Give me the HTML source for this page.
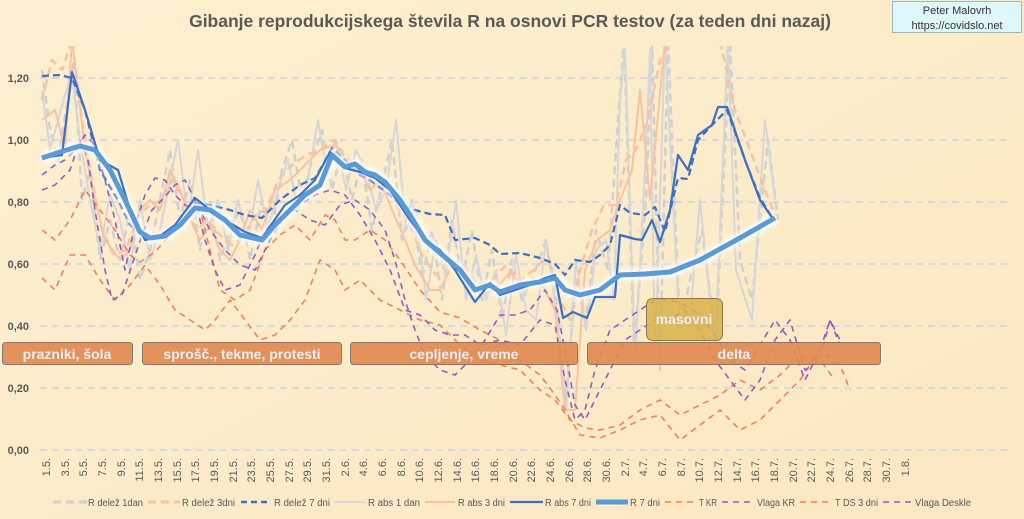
<!DOCTYPE html>
<html><head><meta charset="utf-8"><style>
html,body{margin:0;padding:0;}
body{width:1024px;height:519px;overflow:hidden;background:#fcecc9;}
svg{display:block;font-family:"Liberation Sans",sans-serif;}
</style></head><body>
<svg width="1024" height="519" viewBox="0 0 1024 519" xmlns="http://www.w3.org/2000/svg">
<defs>
<linearGradient id="bg" x1="0" y1="0" x2="1" y2="1"><stop offset="0" stop-color="#fdefd0"/><stop offset="1" stop-color="#fbe8c2"/></linearGradient>
<filter id="blur" x="-5%" y="-5%" width="110%" height="110%"><feGaussianBlur stdDeviation="2.5"/></filter>
</defs>
<rect width="1024" height="519" fill="url(#bg)"/>
<text x="510" y="27" text-anchor="middle" font-size="17.5" font-weight="bold" fill="#595959">Gibanje reprodukcijskega števila R na osnovi PCR testov (za teden dni nazaj)</text>
<rect x="892.5" y="1.5" width="129" height="31" fill="#ddf7fb" stroke="#9fb6c0"/>
<text x="957" y="14" text-anchor="middle" font-size="11" fill="#333">Peter Malovrh</text>
<text x="957" y="29" text-anchor="middle" font-size="11" fill="#333">https://covidslo.net</text>
<g stroke="#d9d9d9" stroke-width="2" stroke-dasharray="7,5">
<line x1="40" y1="78" x2="1012" y2="78"/><line x1="40" y1="140" x2="1012" y2="140"/><line x1="40" y1="202" x2="1012" y2="202"/><line x1="40" y1="264" x2="1012" y2="264"/><line x1="40" y1="326" x2="1012" y2="326"/><line x1="40" y1="388" x2="1012" y2="388"/><line x1="40" y1="450" x2="1012" y2="450"/>
</g>
<g font-size="11" font-weight="bold" fill="#595959" text-anchor="end">
<text x="29" y="82">1,20</text><text x="29" y="144">1,00</text><text x="29" y="206">0,80</text><text x="29" y="268">0,60</text><text x="29" y="330">0,40</text><text x="29" y="392">0,20</text><text x="29" y="454">0,00</text>
</g>
<svg x="40" y="46" width="980" height="409" viewBox="40 46 980 409" overflow="hidden">
<g fill="none" stroke-linejoin="round" stroke-linecap="butt">
<polyline stroke="#d0d0d0" stroke-width="2.5" stroke-dasharray="8,5" points="42,70 50,130 58,160 66,110 74,60 82,200 90,170 100,260 110,220 120,260 130,210 140,280 150,250 160,200 170,150 180,220 190,180 200,250 210,200 220,260 230,230 240,210 250,260 262,200 272,230 282,170 292,140 302,200 312,160 322,130 332,190 342,150 352,200 362,160 372,230 382,185 392,140 402,240 412,200 422,280 432,230 442,300 452,220 462,280 472,230 482,300 492,250 502,320 512,260 522,300 532,280 546,240 556,300 566,400 576,280 586,320 596,230 608,270 618,120 624,40 634,350 646,200 652,40 660,370 668,40 680,330 690,280 702,230 716,340 730,40 740,260 752,300 768,140 778,220"/>
<polyline stroke="#d6d6d6" stroke-width="2" points="42,90 50,150 58,120 65,95 72,75 80,140 90,200 100,250 110,195 120,220 130,270 140,200 150,260 160,230 170,180 178,140 188,220 198,150 208,230 218,200 228,250 238,200 248,240 258,180 268,230 278,190 288,160 298,210 308,180 318,120 326,170 336,140 346,190 356,150 366,170 376,210 386,190 396,120 406,230 416,210 426,300 436,240 446,275 456,200 466,300 476,255 486,300 496,270 506,335 516,255 526,310 536,320 546,240 556,310 566,410 576,260 586,330 596,250 606,240 614,300 620,100 625,50 635,360 645,170 650,50 655,360 665,40 678,300 690,320 700,200 715,350 728,40 736,270 752,320 765,120 775,200"/>
<polyline stroke="#f8c3a2" stroke-width="2.5" stroke-dasharray="8,5" points="42,100 52,60 62,70 72,40 82,120 92,180 102,230 114,255 126,250 138,215 150,205 162,200 172,180 184,200 196,230 208,220 220,235 232,245 244,235 256,215 266,210 278,180 292,165 306,155 320,150 334,140 346,158 360,165 372,185 384,180 396,205 410,225 422,255 436,275 450,260 464,265 478,285 492,280 506,265 520,280 534,270 548,255 560,300 570,320 580,270 592,230 604,205 616,205 626,160 636,150 648,120 660,60 672,40 720,40 735,110 750,150 765,190 775,215"/>
<polyline stroke="#f8c3a2" stroke-width="2" points="42,120 55,110 65,150 72,40 85,150 95,200 105,240 120,260 130,250 140,210 150,200 160,210 170,170 180,190 190,220 200,240 210,225 220,250 230,260 240,240 250,210 262,230 275,190 290,180 305,165 320,150 335,145 345,160 360,170 370,190 380,180 392,210 405,240 415,265 430,290 440,290 452,265 465,270 480,295 495,290 510,272 525,290 540,280 555,310 565,410 575,410 585,270 597,240 610,230 618,205 632,170 640,90 650,200 665,40 690,40"/>
<polyline stroke="#f47f5d" stroke-width="1.6" stroke-dasharray="6,5" points="42,230 55,240 70,220 85,190 100,210 115,230 130,255 140,262 155,252 170,235 185,220 200,210 210,250 220,290 235,300 250,290 265,250 280,235 295,225 310,240 325,215 335,220 345,240 355,240 370,230 385,240 400,260 420,290 440,312 460,318 480,330 500,340 520,360 540,375 555,395 565,410 580,435 600,438 620,430 640,420 660,415 680,440 700,425 720,410 740,430 760,420 780,400 800,380 820,350 840,365 850,390"/>
<polyline stroke="#f47f5d" stroke-width="1.6" stroke-dasharray="6,5" points="42,278 55,290 70,255 85,255 100,280 115,300 130,285 145,265 160,285 175,310 190,320 205,330 215,320 230,300 245,320 260,340 275,335 290,320 305,300 320,260 335,270 345,290 360,280 380,300 400,310 420,320 440,325 460,345 480,360 500,365 520,370 540,390 555,400 570,420 585,428 600,430 620,425 640,410 660,400 680,415 700,405 720,395 740,380 760,390 780,375 800,355 820,360 835,380"/>
<polyline stroke="#8e5cc6" stroke-width="1.6" stroke-dasharray="6,5" points="42,190 55,185 70,170 80,140 88,160 95,210 105,270 112,300 122,295 132,265 142,235 152,210 162,200 175,185 185,180 195,200 205,240 215,270 225,290 240,285 255,255 265,230 280,215 295,210 310,220 325,225 340,205 355,200 370,210 385,230 395,260 405,300 415,330 425,355 440,370 455,375 470,360 485,340 500,315 515,315 530,310 545,290 557,310 565,350 575,405 585,420 595,400 610,370 625,340 640,330 655,320 670,320 685,310 700,330 715,360 730,380 745,400 760,380 775,340 790,320 805,370 820,360 830,320 840,340"/>
<polyline stroke="#8e5cc6" stroke-width="1.6" stroke-dasharray="6,5" points="42,175 55,165 65,160 75,150 85,135 95,145 105,180 115,220 125,270 135,225 145,195 155,178 165,180 175,195 185,205 200,210 210,230 225,250 240,265 255,270 270,240 285,215 300,205 315,195 330,190 345,195 360,215 375,240 390,270 405,310 420,315 435,330 450,335 465,335 480,345 500,340 520,345 540,320 555,325 565,380 575,420 585,410 595,370 610,330 625,320 640,310 655,300 670,300 685,305 700,315 715,335 730,360 745,370 760,345 775,320 790,340 805,380 820,350 830,320 840,345"/>
<polyline stroke="#3d6fc4" stroke-width="2.2" stroke-dasharray="7,4" points="42,76 60,75 72,78 85,110 100,170 118,200 130,225 145,238 165,238 180,225 195,203 210,205 230,210 245,215 262,218 280,200 300,185 315,178 332,148 345,160 360,175 370,180 390,195 400,205 415,210 430,214 445,215 455,240 475,238 490,245 500,254 520,253 540,258 555,264 565,275 575,260 590,262 600,255 610,245 620,205 630,213 645,215 655,207 665,232 678,178 688,179 698,140 712,125 727,110 745,160 760,198 773,219"/>
<polyline stroke="#ffffff" stroke-width="11" opacity="0.9" filter="url(#blur)" points="42,158 60,152 80,146 95,150 110,170 125,200 140,232 150,238 165,236 180,225 195,208 210,210 225,220 240,235 262,240 275,225 290,210 305,195 320,185 332,155 345,167 355,164 365,172 375,175 385,182 400,200 410,215 425,240 440,253 460,270 475,290 490,285 500,292 520,285 540,282 555,278 565,290 580,295 600,290 620,275 645,274 670,272 700,260 740,238 775,218"/>
<polyline stroke="#3d6fc4" stroke-width="2.2" points="42,158 62,155 72,72 85,110 100,160 118,170 130,210 145,240 160,236 175,225 195,198 210,210 225,220 245,232 262,238 285,205 300,195 315,180 330,152 345,168 360,172 375,178 390,190 400,205 410,220 425,240 440,250 455,270 475,302 490,283 500,295 530,285 545,278 555,275 563,318 573,312 587,318 595,297 615,297 620,235 635,239 642,240 652,220 660,242 670,210 678,155 688,170 698,135 712,125 718,107 727,107 745,160 760,200 773,219"/>
<polyline stroke="#5b9bd5" stroke-width="5" points="42,158 60,152 80,146 95,150 110,170 125,200 140,232 150,238 165,236 180,225 195,208 210,210 225,220 240,235 262,240 275,225 290,210 305,195 320,185 332,155 345,167 355,164 365,172 375,175 385,182 400,200 410,215 425,240 440,253 460,270 475,290 490,285 500,292 520,285 540,282 555,278 565,290 580,295 600,290 620,275 645,274 670,272 700,260 740,238 775,218"/>
</g>
</svg>
<g font-size="14" font-weight="bold" fill="#e8eef8" text-anchor="middle">
<rect x="646.5" y="298.5" width="76" height="42" rx="6" fill="#d9b24a" fill-opacity="0.85" stroke="#8a7a50"/>
<text x="684" y="324">masovni</text>
<rect x="2.5" y="342.5" width="130" height="22" rx="3" fill="#e08a50" fill-opacity="0.92" stroke="#7b7b7b"/>
<text x="67" y="359">prazniki, šola</text>
<rect x="142.5" y="342.5" width="199" height="22" rx="3" fill="#e08a50" fill-opacity="0.92" stroke="#7b7b7b"/>
<text x="242" y="359">sprošč., tekme, protesti</text>
<rect x="350.5" y="342.5" width="227" height="22" rx="3" fill="#e08a50" fill-opacity="0.92" stroke="#7b7b7b"/>
<text x="464" y="359">cepljenje, vreme</text>
<rect x="587.5" y="342.5" width="293" height="22" rx="3" fill="#e08a50" fill-opacity="0.92" stroke="#7b7b7b"/>
<text x="734" y="359">delta</text>
</g>
<g font-size="11" fill="#595959" text-anchor="end">
<text transform="translate(50,458) rotate(-90)">1.5.</text><text transform="translate(69,458) rotate(-90)">3.5.</text><text transform="translate(87,458) rotate(-90)">5.5.</text><text transform="translate(106,458) rotate(-90)">7.5.</text><text transform="translate(125,458) rotate(-90)">9.5.</text><text transform="translate(143,458) rotate(-90)">11.5.</text><text transform="translate(162,458) rotate(-90)">13.5.</text><text transform="translate(181,458) rotate(-90)">15.5.</text><text transform="translate(199,458) rotate(-90)">17.5.</text><text transform="translate(218,458) rotate(-90)">19.5.</text><text transform="translate(237,458) rotate(-90)">21.5.</text><text transform="translate(255,458) rotate(-90)">23.5.</text><text transform="translate(274,458) rotate(-90)">25.5.</text><text transform="translate(293,458) rotate(-90)">27.5.</text><text transform="translate(311,458) rotate(-90)">29.5.</text><text transform="translate(330,458) rotate(-90)">31.5.</text><text transform="translate(349,458) rotate(-90)">2.6.</text><text transform="translate(367,458) rotate(-90)">4.6.</text><text transform="translate(386,458) rotate(-90)">6.6.</text><text transform="translate(405,458) rotate(-90)">8.6.</text><text transform="translate(423,458) rotate(-90)">10.6.</text><text transform="translate(442,458) rotate(-90)">12.6.</text><text transform="translate(461,458) rotate(-90)">14.6.</text><text transform="translate(479,458) rotate(-90)">16.6.</text><text transform="translate(498,458) rotate(-90)">18.6.</text><text transform="translate(517,458) rotate(-90)">20.6.</text><text transform="translate(535,458) rotate(-90)">22.6.</text><text transform="translate(554,458) rotate(-90)">24.6.</text><text transform="translate(573,458) rotate(-90)">26.6.</text><text transform="translate(591,458) rotate(-90)">28.6.</text><text transform="translate(610,458) rotate(-90)">30.6.</text><text transform="translate(629,458) rotate(-90)">2.7.</text><text transform="translate(647,458) rotate(-90)">4.7.</text><text transform="translate(666,458) rotate(-90)">6.7.</text><text transform="translate(685,458) rotate(-90)">8.7.</text><text transform="translate(703,458) rotate(-90)">10.7.</text><text transform="translate(722,458) rotate(-90)">12.7.</text><text transform="translate(741,458) rotate(-90)">14.7.</text><text transform="translate(759,458) rotate(-90)">16.7.</text><text transform="translate(778,458) rotate(-90)">18.7.</text><text transform="translate(797,458) rotate(-90)">20.7.</text><text transform="translate(815,458) rotate(-90)">22.7.</text><text transform="translate(834,458) rotate(-90)">24.7.</text><text transform="translate(853,458) rotate(-90)">26.7.</text><text transform="translate(871,458) rotate(-90)">28.7.</text><text transform="translate(890,458) rotate(-90)">30.7.</text><text transform="translate(909,458) rotate(-90)">1.8.</text>
</g>
<g fill="none">
<line x1="53" y1="502" x2="87" y2="502" stroke="#d0d0d0" stroke-width="3" stroke-dasharray="8,5"/>
<line x1="148" y1="502" x2="180" y2="502" stroke="#f8c3a2" stroke-width="3" stroke-dasharray="8,5"/>
<line x1="241" y1="502" x2="270" y2="502" stroke="#3d6fc4" stroke-width="2.5" stroke-dasharray="6,4"/>
<line x1="335" y1="502" x2="365" y2="502" stroke="#d6d6d6" stroke-width="2"/>
<line x1="425" y1="502" x2="455" y2="502" stroke="#f8c3a2" stroke-width="2"/>
<line x1="510" y1="502" x2="543" y2="502" stroke="#3d6fc4" stroke-width="2.2"/>
<line x1="596" y1="502" x2="628" y2="502" stroke="#5b9bd5" stroke-width="5"/>
<line x1="665" y1="502" x2="697" y2="502" stroke="#f47f5d" stroke-width="1.6" stroke-dasharray="6,5"/>
<line x1="722" y1="502" x2="755" y2="502" stroke="#8e5cc6" stroke-width="1.6" stroke-dasharray="6,5"/>
<line x1="800" y1="502" x2="833" y2="502" stroke="#f47f5d" stroke-width="1.6" stroke-dasharray="6,5"/>
<line x1="883" y1="502" x2="913" y2="502" stroke="#8e5cc6" stroke-width="1.6" stroke-dasharray="6,5"/>
</g>
<g font-size="10" fill="#595959" lengthAdjust="spacingAndGlyphs">
<text x="88" y="506" textLength="55" lengthAdjust="spacingAndGlyphs">R delež 1dan</text><text x="182" y="506" textLength="53" lengthAdjust="spacingAndGlyphs">R delež 3dni</text><text x="274" y="506" textLength="56" lengthAdjust="spacingAndGlyphs">R delež 7 dni</text><text x="368" y="506" textLength="52" lengthAdjust="spacingAndGlyphs">R abs 1 dan</text><text x="458" y="506" textLength="47" lengthAdjust="spacingAndGlyphs">R abs 3 dni</text><text x="545" y="506" textLength="46" lengthAdjust="spacingAndGlyphs">R abs 7 dni</text><text x="630" y="506" textLength="30" lengthAdjust="spacingAndGlyphs">R 7 dni</text><text x="699" y="506" textLength="18" lengthAdjust="spacingAndGlyphs">T KR</text><text x="757" y="506" textLength="38" lengthAdjust="spacingAndGlyphs">Vlaga KR</text><text x="835" y="506" textLength="43" lengthAdjust="spacingAndGlyphs">T DS 3 dni</text><text x="915" y="506" textLength="56" lengthAdjust="spacingAndGlyphs">Vlaga Deskle</text>
</g>
</svg>
</body></html>
